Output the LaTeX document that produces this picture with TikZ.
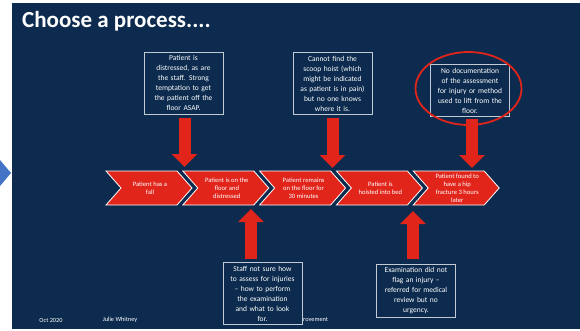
\documentclass[tikz,border=0pt]{standalone}
\usepackage{fontspec}
\setmainfont{Carlito}
\usetikzlibrary{arrows.meta}
\definecolor{slideblue}{HTML}{0C2B4E}
\definecolor{chevred}{HTML}{E1251B}
\definecolor{prevblue}{HTML}{4472C4}

\begin{document}
\begin{tikzpicture}[x=1pt, y=-1pt,
    chev/.style={fill=chevred, draw=white, line width=0.8pt, line join=miter},
    chevtext/.style={text=white, font=\fontsize{6.6}{8}\selectfont, align=center, inner sep=0pt},
    note/.style={draw=white!75!slideblue, line width=0.6pt, fill=slideblue, text=white,
      font=\fontsize{7.5}{10}\selectfont, align=center, text width=76pt, inner xsep=1.5pt, inner ysep=3.5pt},
    push/.style={chevred, line width=12pt, -{Triangle[width=25pt, length=13pt]}},
    foot/.style={text=white, font=\fontsize{6.3}{7}\selectfont, inner sep=0pt}]
  \useasboundingbox (0,0) rectangle (580,330);
  \fill[slideblue] (12,2.5) rectangle (580,329);
  \fill[prevblue] (0,160) -- (11,173) -- (0,186) -- cycle;

  \node[anchor=base west, text=white, font=\fontsize{23}{26}\selectfont\bfseries, inner sep=0pt] (title) at (22,27) {Choose a process....};

  \foreach \i/\txt in {1/{Patient has a\\fall},
                       2/{Patient is on the\\floor and\\distressed},
                       3/{Patient remains\\on the floor for\\30 minutes},
                       4/{Patient is\\hoisted into bed},
                       5/{Patient found to\\have a hip\\fracture 3 hours\\later}} {
    \pgfmathsetmacro\x{106+76.8*(\i-1)}
    \draw[chev] (\x,171) -- ++(71,0) -- ++(15,17) -- ++(-15,17) -- ++(-71,0) -- ++(15,-17) -- cycle;
    \node[chevtext] (s\i) at (\x+44,188) {\txt};
  }

  \node[note, anchor=north] (boxA) at (183.5,52) {Patient is\\distressed, as are\\the staff. Strong\\temptation to get\\the patient off the\\floor ASAP.};
  \node[note, anchor=north] (boxB) at (332.5,52) {Cannot find the\\scoop hoist (which\\might be indicated\\as patient is in pain)\\but no one knows\\where it is.};
  \node[note, anchor=north] (boxC) at (470,64) {No documentation\\of the assessment\\for injury or method\\used to lift from the\\floor.};
  \node[note, anchor=south] (boxD) at (262.5,325) {Staff not sure how\\to assess for injuries\\-- how to perform\\the examination\\and what to look\\for.};
  \node[note, anchor=south] (boxE) at (416,318) {Examination did not\\flag an injury --\\referred for medical\\review but no\\urgency.};

  \coordinate (hitA) at (184.5,167);
  \coordinate (hitB) at (332.5,168);
  \coordinate (hitC) at (472,168);
  \coordinate (hitD) at (251,209);
  \coordinate (hitE) at (413,211);

  \draw[push, shorten <=3pt] (boxA.south -| hitA) -- (hitA);
  \draw[push, shorten <=3pt] (boxB.south -| hitB) -- (hitB);
  \draw[push, shorten <=2pt] (boxC.south -| hitC) -- (hitC);
  \draw[push, shorten <=3pt] (boxD.north -| hitD) -- (hitD);
  \draw[push, shorten <=5pt] (boxE.north -| hitE) -- (hitE);

  \draw[chevred, line width=1.8pt] (468.5,88.5) ellipse [x radius=53, y radius=36.5];

  \node[foot] (date) at (51,320) {Oct 2020};
  \node[foot] (name) at (120,320) {Julie Whitney};
  \node[foot, anchor=west] (qi) at (303,320) {rovement};
\end{tikzpicture}
\end{document}
